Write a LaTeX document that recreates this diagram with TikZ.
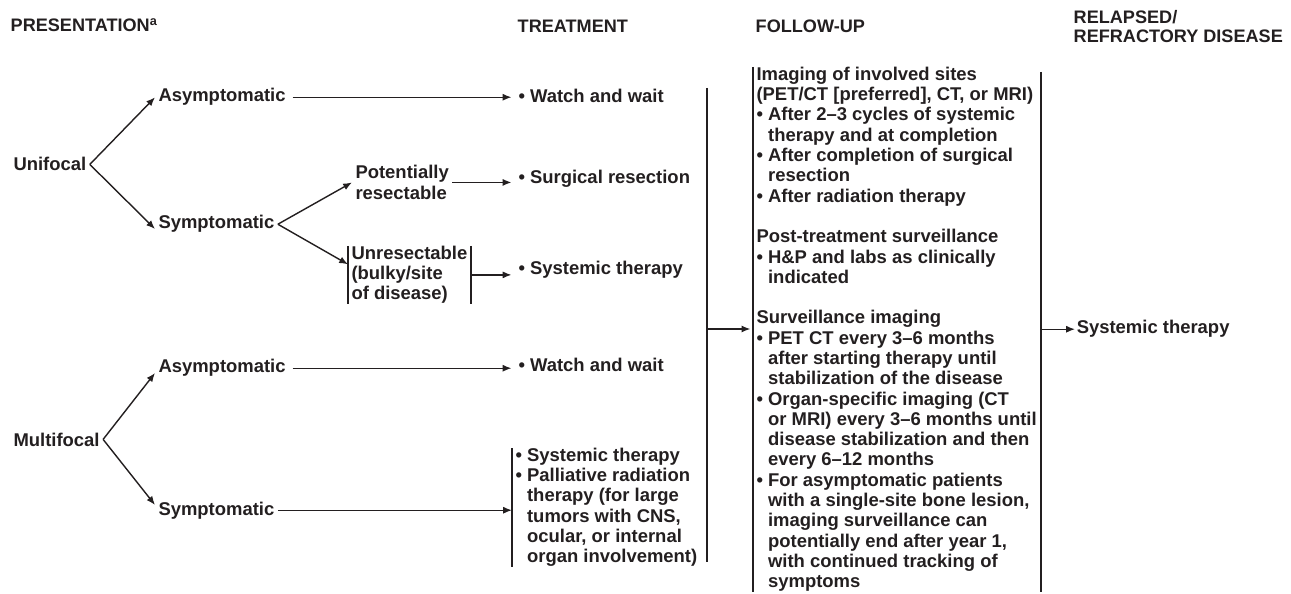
\documentclass[tikz,border=0pt]{standalone}
\usepackage{fontspec}
\setmainfont{Liberation Sans}
\usetikzlibrary{arrows.meta,positioning,calc}
\definecolor{inkColor}{HTML}{231F20}
\newcommand{\ind}{\hphantom{•\ }}
\tikzset{
	txt/.style={inner sep=0pt, outer sep=2pt, align=left, text=inkColor,
		font=\fontsize{10.5}{11.55}\selectfont\bfseries},
	hd/.style={inner sep=0pt, align=left, text=inkColor,
		font=\fontsize{10.3}{10.8}\selectfont\bfseries},
	blk/.style={txt, inner xsep=2pt, outer sep=0pt},
	arr/.style={->, shorten >=2pt}
}

\begin{document}
\begin{tikzpicture}[x=0.02cm, y=-0.02cm, line width=0.8pt, draw=inkColor,
		>={Latex[length=5pt,width=4pt]}]
	\useasboundingbox (0,0) rectangle (1291,594);
	% headers
	\node[hd, anchor=base west] (pres) at (10,32) {PRESENTATION\textsuperscript{a}};
	\node[hd, anchor=base west] (treat) at (517,33) {TREATMENT};
	\node[hd, anchor=base west] (follow) at (755,33) {FOLLOW-UP};
	\node[hd, anchor=north west] (relapse) at (1073,10) {RELAPSED/\\REFRACTORY DISEASE};
	
	% unifocal branch
	\node[txt, anchor=base west] (uni) at (10,171) {Unifocal};
	\node[txt, anchor=base west] (uAsym) at (155,102) {Asymptomatic};
	\node[txt, anchor=base west] (uSym) at (155,229) {Symptomatic};
	\node[txt, anchor=north west] (potRes) at (352,162) {Potentially\\resectable};
	\node[blk, anchor=north west] (unRes) at (348,246) {Unresectable\\(bulky/site\\of disease)};
	\node[txt, anchor=base west] (wait1) at (515,103) {• Watch and wait};
	\node[txt, anchor=base west] (surg) at (515,184) {• Surgical resection};
	\node[txt, anchor=base west] (sys1) at (515,275) {• Systemic therapy};
	
	% multifocal branch
	\node[txt, anchor=base west] (multi) at (10,446) {Multifocal};
	\node[txt, anchor=base west] (mAsym) at (155,373) {Asymptomatic};
	\node[txt, anchor=base west] (mSym) at (155,515) {Symptomatic};
	\node[txt, anchor=base west] (wait2) at (515,372) {• Watch and wait};
	\node[blk, anchor=north west] (sysPal) at (512,448) {• Systemic therapy\\• Palliative radiation\\\ind therapy (for large\\\ind tumors with CNS,\\\ind ocular, or internal\\\ind organ involvement)};
	
	% follow-up and relapse
	\node[blk, anchor=north west] (fu) at (753,67) {Imaging of involved sites\\
		(PET/CT [preferred], CT, or MRI)\\
		• After 2–3 cycles of systemic\\
		\ind therapy and at completion\\
		• After completion of surgical\\
		\ind resection\\
		• After radiation therapy\\[11.55pt]
		Post-treatment surveillance\\
		• H\&P and labs as clinically\\
		\ind indicated\\[11.55pt]
		Surveillance imaging\\
		• PET CT every 3–6 months\\
		\ind after starting therapy until\\
		\ind stabilization of the disease\\
		• Organ-specific imaging (CT\\
		\ind or MRI) every 3–6 months until\\
		\ind disease stabilization and then\\
		\ind every 6–12 months\\
		• For asymptomatic patients\\
		\ind with a single-site bone lesion,\\
		\ind imaging surveillance can\\
		\ind potentially end after year 1,\\
		\ind with continued tracking of\\
		\ind symptoms};
	\node[txt, anchor=base west, outer sep=1pt] (relSys) at (1075,334) {Systemic therapy};
	
	\coordinate (tTop) at (707,88);
	\coordinate (tBot) at (707,562);
	\coordinate (tMid) at (707,329);
	\coordinate (fuR) at (1041,72);
	
	% brackets
	\draw (unRes.north west) -- (unRes.south west) (unRes.north east) -- (unRes.south east);
	\draw (sysPal.north west) -- (sysPal.south west);
	\draw (tTop) -- (tBot);
	\draw (fu.north west) -- (fu.south west);
	\draw (fuR) -- (fuR |- fu.south);
	
	% connectors
	\draw[->] (uni.east) -- (uAsym.mid west);
	\draw[->] (uni.east) -- (uSym.base west);
	\draw[->] (uSym.east) -- (potRes.west);
	\draw[->] (uSym.east) -- ([yshift=6pt]unRes.west);
	\draw[arr, shorten <=2pt] (uAsym.east) -- (uAsym.east -| wait1.west);
	\draw[arr] (potRes.east) -- (potRes.east -| surg.west);
	\draw[arr] (unRes.east) -- (unRes.east -| sys1.west);
	\draw[->] (multi.east) -- (mAsym.base west);
	\draw[->] (multi.east) -- ([yshift=3pt]mSym.west);
	\draw[arr, shorten <=2pt] (mAsym.east) -- (mAsym.east -| wait2.west);
	\draw[->] (mSym.east) -- (mSym.east -| sysPal.west);
	\draw[->, shorten >=1.5pt] (tMid) -- (tMid -| fu.west);
	\draw[->] (fuR |- relSys.west) -- (relSys.west);
\end{tikzpicture}
\end{document}
